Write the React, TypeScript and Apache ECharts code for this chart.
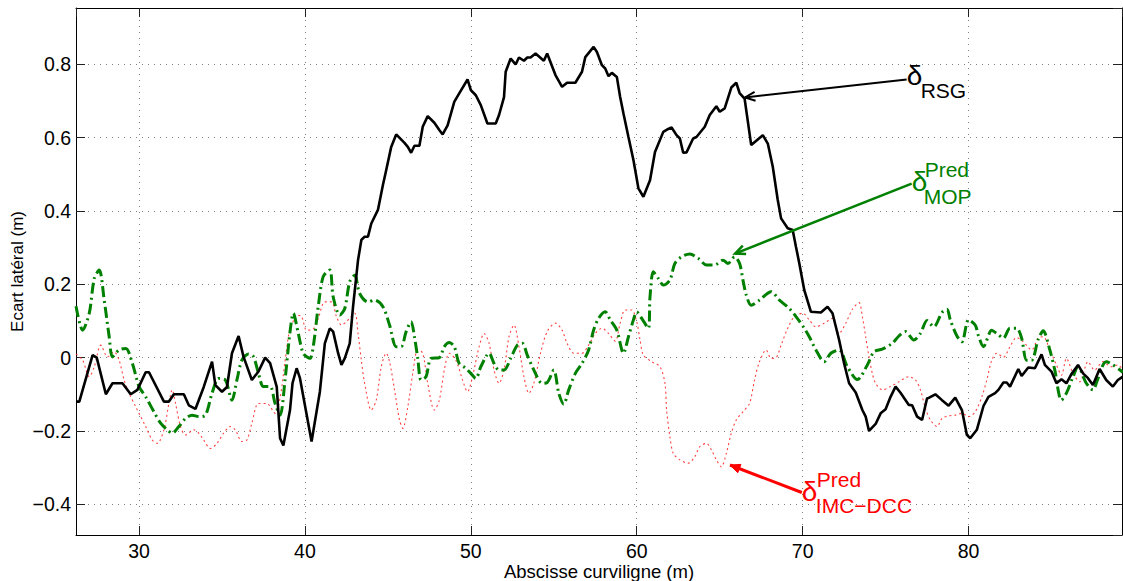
import React, { useEffect, useRef } from "react";
import * as echarts from "echarts";

// ---------- DATA ----------
const rsgX = [26.2, 26.4, 27.2, 27.45, 28.0, 28.4, 29.0, 29.5, 29.9, 30.4, 30.6, 31.5, 31.8, 32.1, 32.7, 33.0, 33.4, 33.9, 34.4, 34.6, 35.0, 35.3, 35.6, 36.0, 36.3, 36.8, 37.2, 37.6, 37.9, 38.3, 38.5, 38.7, 39.1, 39.25, 39.5, 39.7, 40.4, 40.9, 41.2, 41.5, 41.7, 42.0, 42.2, 42.4, 42.7, 42.9, 43.2, 43.4, 43.6, 43.8, 44.0, 44.4, 44.7, 44.9, 45.2, 45.5, 46.0, 46.2, 46.4, 46.6, 46.9, 47.1, 47.4, 47.8, 48.1, 48.3, 48.6, 49.0, 49.3, 49.8, 50.0, 50.3, 50.6, 51.0, 51.5, 51.7, 52.0, 52.1, 52.4, 52.7, 52.9, 53.2, 53.4, 53.6, 53.9, 54.4, 54.6, 55.1, 55.5, 55.8, 56.3, 56.7, 56.9, 57.4, 57.6, 57.9, 58.1, 58.3, 58.5, 58.8, 59.0, 59.2, 59.5, 59.8, 60.1, 60.4, 60.8, 61.1, 61.6, 61.9, 62.1, 62.4, 62.6, 62.8, 63.0, 63.4, 63.6, 64.1, 64.4, 64.8, 65.0, 65.3, 65.7, 66.0, 66.2, 66.5, 66.9, 67.6, 67.9, 68.2, 68.5, 68.7, 69.1, 69.4, 69.6, 69.8, 70.1, 70.5, 71.1, 71.5, 71.8, 72.2, 72.5, 72.8, 73.2, 73.6, 73.8, 74.0, 74.4, 74.7, 75.0, 75.3, 75.6, 75.9, 76.4, 76.6, 76.9, 77.2, 77.5, 77.6, 78.0, 78.4, 78.8, 79.2, 79.6, 79.9, 80.1, 80.5, 80.9, 81.2, 81.6, 81.8, 82.1, 82.3, 82.5, 83.0, 83.2, 83.6, 84.0, 84.4, 84.6, 85.0, 85.3, 85.6, 85.9, 86.2, 86.6, 86.9, 87.2, 87.5, 87.9, 88.3, 88.7, 89.0, 89.3];
const rsgY = [-0.12, -0.12, 0.007, 0.0, -0.10, -0.07, -0.07, -0.10, -0.088, -0.04, -0.04, -0.12, -0.12, -0.10, -0.10, -0.13, -0.14, -0.08, -0.011, -0.075, -0.093, -0.08, 0.012, 0.059, 0.002, -0.061, -0.038, 0.0, -0.015, -0.08, -0.22, -0.24, -0.143, -0.07, -0.029, -0.056, -0.229, -0.093, 0.039, 0.08, 0.071, 0.012, -0.02, -0.002, 0.039, 0.139, 0.266, 0.321, 0.33, 0.33, 0.366, 0.403, 0.471, 0.512, 0.575, 0.609, 0.586, 0.575, 0.559, 0.578, 0.578, 0.63, 0.659, 0.641, 0.621, 0.609, 0.634, 0.698, 0.721, 0.759, 0.73, 0.716, 0.689, 0.639, 0.639, 0.662, 0.711, 0.78, 0.816, 0.80, 0.819, 0.81, 0.819, 0.819, 0.83, 0.81, 0.83, 0.771, 0.739, 0.75, 0.75, 0.78, 0.82, 0.848, 0.834, 0.798, 0.789, 0.768, 0.777, 0.766, 0.711, 0.666, 0.602, 0.539, 0.462, 0.439, 0.484, 0.561, 0.616, 0.624, 0.628, 0.607, 0.598, 0.559, 0.56, 0.598, 0.602, 0.63, 0.662, 0.686, 0.671, 0.68, 0.737, 0.75, 0.722, 0.707, 0.58, 0.607, 0.584, 0.521, 0.43, 0.38, 0.353, 0.348, 0.302, 0.257, 0.184, 0.125, 0.123, 0.139, 0.121, 0.048, -0.016, -0.07, -0.095, -0.143, -0.161, -0.2, -0.181, -0.152, -0.141, -0.107, -0.079, -0.096, -0.129, -0.13, -0.161, -0.17, -0.111, -0.11, -0.1, -0.116, -0.131, -0.109, -0.143, -0.211, -0.22, -0.197, -0.132, -0.107, -0.097, -0.088, -0.068, -0.068, -0.079, -0.031, -0.05, -0.027, -0.029, 0.009, -0.02, -0.038, -0.07, -0.059, -0.07, -0.045, -0.02, -0.043, -0.056, -0.075, -0.031, -0.061, -0.079, -0.061, -0.052];

const mopX = [26.2, 26.6, 27.0, 27.3, 27.6, 27.9, 28.2, 28.4, 28.8, 29.2, 29.6, 30.0, 30.4, 30.9, 31.3, 31.7, 32.0, 32.4, 32.8, 33.2, 33.6, 34.0, 34.4, 34.8, 35.2, 35.6, 35.9, 36.2, 36.6, 36.9, 37.2, 37.5, 37.9, 38.2, 38.5, 38.8, 39.1, 39.3, 39.6, 39.9, 40.3, 40.5, 40.8, 41.1, 41.5, 41.7, 42.1, 42.4, 42.7, 43.0, 43.3, 43.8, 44.2, 44.7, 45.1, 45.5, 45.8, 46.1, 46.4, 46.6, 46.8, 47.0, 47.3, 47.6, 48.1, 48.4, 48.7, 49.0, 49.3, 49.7, 50.0, 50.3, 50.6, 51.1, 51.4, 51.7, 52.0, 52.4, 52.8, 53.1, 53.4, 53.8, 54.3, 54.6, 55.0, 55.3, 55.6, 55.9, 56.3, 56.7, 57.1, 57.4, 57.7, 58.1, 58.4, 58.8, 59.2, 59.5, 59.8, 60.0, 60.3, 60.7, 60.8, 61.0, 61.3, 61.6, 62.0, 62.3, 62.7, 63.2, 63.7, 64.2, 64.7, 65.2, 65.5, 65.9, 66.2, 66.4, 66.6, 66.9, 67.4, 68.1, 68.6, 69.2, 69.6, 70.1, 70.4, 70.8, 71.3, 71.7, 72.2, 72.7, 73.3, 73.9, 74.3, 74.8, 75.4, 75.8, 76.2, 76.7, 77.1, 77.5, 77.9, 78.4, 78.7, 78.9, 79.3, 79.6, 80.0, 80.4, 80.6, 80.9, 81.4, 81.7, 82.1, 82.5, 82.9, 83.2, 83.5, 83.8, 84.2, 84.5, 84.9, 85.2, 85.6, 85.9, 86.3, 86.6, 87.1, 87.5, 87.8, 88.3, 89.3];
const mopY = [0.14, 0.075, 0.121, 0.216, 0.239, 0.157, 0.057, 0.002, 0.021, 0.025, -0.016, -0.079, -0.107, -0.148, -0.179, -0.197, -0.206, -0.188, -0.166, -0.157, -0.161, -0.157, -0.097, -0.057, -0.061, -0.116, -0.061, -0.007, 0.01, 0.002, -0.043, -0.079, -0.079, -0.125, -0.157, -0.061, 0.07, 0.121, 0.066, 0.012, -0.002, 0.03, 0.139, 0.221, 0.239, 0.166, 0.116, 0.134, 0.207, 0.225, 0.175, 0.152, 0.157, 0.139, 0.089, 0.03, 0.03, 0.071, 0.098, 0.057, -0.002, -0.061, -0.052, -0.002, 0.0, 0.03, 0.041, 0.03, -0.016, -0.029, -0.043, -0.057, -0.025, 0.012, -0.016, -0.034, -0.034, -0.002, 0.034, 0.039, 0.007, -0.034, -0.07, -0.068, -0.034, -0.097, -0.127, -0.088, -0.043, -0.016, 0.021, 0.075, 0.107, 0.125, 0.103, 0.075, 0.012, 0.057, 0.103, 0.125, 0.107, 0.08, 0.166, 0.234, 0.216, 0.198, 0.212, 0.257, 0.275, 0.283, 0.271, 0.253, 0.253, 0.266, 0.257, 0.275, 0.257, 0.212, 0.171, 0.143, 0.157, 0.18, 0.157, 0.134, 0.112, 0.08, 0.057, 0.021, -0.011, 0.012, 0.021, -0.025, -0.06, -0.02, 0.016, 0.023, 0.039, 0.059, 0.071, 0.048, 0.066, 0.101, 0.084, 0.123, 0.132, 0.103, 0.059, 0.043, 0.103, 0.089, 0.059, 0.03, 0.075, 0.066, 0.053, 0.08, 0.08, 0.053, -0.007, -0.007, 0.05, 0.073, 0.021, -0.034, -0.116, -0.097, -0.052, -0.025, -0.07, -0.088, -0.057, -0.011, -0.04];

const imcX = [26.2, 26.6, 27.0, 27.3, 27.7, 28.1, 28.5, 28.8, 29.1, 29.4, 29.8, 30.1, 30.4, 30.8, 31.1, 31.5, 31.8, 32.0, 32.2, 32.5, 32.8, 33.3, 33.6, 33.9, 34.3, 34.7, 35.1, 35.5, 35.8, 36.2, 36.5, 36.8, 37.2, 37.7, 38.2, 38.5, 38.8, 39.05, 39.3, 39.5, 39.8, 40.1, 40.5, 40.8, 41.2, 41.6, 41.9, 42.2, 42.5, 43.0, 43.2, 43.4, 43.6, 44.0, 44.3, 44.6, 44.9, 45.1, 45.4, 45.7, 45.9, 46.2, 46.5, 46.8, 47.1, 47.4, 47.8, 48.1, 48.4, 48.7, 49.1, 49.5, 49.8, 50.1, 50.5, 50.8, 51.1, 51.4, 51.7, 52.0, 52.3, 52.6, 52.9, 53.2, 53.5, 53.8, 54.2, 54.6, 55.1, 55.5, 55.8, 56.2, 56.7, 57.1, 57.5, 57.9, 58.3, 58.7, 59.0, 59.3, 59.7, 60.0, 60.2, 60.4, 60.9, 61.4, 61.7, 61.8, 62.0, 62.2, 62.6, 63.1, 63.5, 63.8, 64.2, 64.5, 64.8, 65.1, 65.4, 65.7, 66.0, 66.4, 66.8, 67.1, 67.4, 67.8, 68.1, 68.4, 68.7, 69.1, 69.5, 70.0, 70.4, 70.8, 71.3, 71.8, 72.2, 72.6, 73.0, 73.4, 73.6, 73.8, 74.0, 74.2, 74.4, 74.8, 75.3, 75.8, 76.4, 76.8, 77.1, 77.4, 77.7, 78.1, 78.4, 78.8, 79.2, 79.6, 80.0, 80.4, 80.8, 81.1, 81.4, 81.7, 82.1, 82.5, 82.9, 83.3, 83.8, 84.2, 84.5, 84.9, 85.3, 85.6, 85.9, 86.3, 86.7, 87.2, 87.6, 88.1, 88.6, 89.0, 89.3];
const imcY = [0.01, -0.007, -0.052, -0.025, 0.034, 0.002, 0.016, -0.007, -0.061, -0.097, -0.134, -0.161, -0.188, -0.225, -0.234, -0.197, -0.125, -0.088, -0.125, -0.188, -0.211, -0.197, -0.206, -0.225, -0.248, -0.234, -0.206, -0.188, -0.197, -0.229, -0.225, -0.179, -0.125, -0.125, -0.152, -0.11, -0.01, 0.07, 0.1, 0.116, 0.112, 0.075, 0.078, 0.107, 0.152, 0.152, 0.112, 0.089, 0.098, 0.121, 0.066, -0.007, -0.07, -0.143, -0.116, -0.025, 0.012, -0.011, -0.088, -0.17, -0.193, -0.134, -0.043, 0.021, 0.012, -0.07, -0.143, -0.116, -0.034, 0.012, -0.007, -0.061, -0.093, -0.052, 0.03, 0.066, 0.039, -0.034, -0.07, -0.034, 0.057, 0.089, 0.03, -0.052, -0.097, -0.07, 0.012, 0.071, 0.094, 0.075, 0.039, 0.012, 0.012, 0.034, 0.066, 0.08, 0.066, 0.045, 0.094, 0.13, 0.13, 0.098, 0.048, 0.007, -0.011, -0.025, -0.07, -0.143, -0.216, -0.261, -0.279, -0.288, -0.27, -0.243, -0.234, -0.252, -0.279, -0.298, -0.261, -0.206, -0.17, -0.148, -0.125, -0.061, -0.011, 0.021, -0.002, 0.0, 0.034, 0.08, 0.112, 0.121, 0.103, 0.084, 0.094, 0.107, 0.066, 0.094, 0.132, 0.15, 0.112, 0.057, 0.002, -0.043, -0.07, -0.088, -0.079, -0.066, -0.052, -0.061, -0.088, -0.138, -0.17, -0.188, -0.166, -0.159, -0.157, -0.152, -0.161, -0.148, -0.107, -0.061, -0.007, 0.012, 0.001, 0.03, 0.055, 0.043, 0.021, 0.053, 0.057, 0.021, -0.02, -0.048, -0.002, -0.043, -0.066, -0.011, -0.034, -0.011, -0.025, -0.02, -0.034];

const xTickValues = [30, 40, 50, 60, 70, 80];
const yTickValues = [-0.4, -0.2, 0, 0.2, 0.4, 0.6, 0.8];

// axis extents
const X_MIN = 26.2;
const X_MAX = 89.25;
const Y_MIN = -0.484;
const Y_MAX = 0.954;

// annotation anchors (data coords): tail of arrow, tip of arrow
const annRSG = { tail: [76.27, 0.759], tip: [66.53, 0.71] };
const annMOP = { tail: [76.57, 0.475], tip: [65.93, 0.284] };
const annIMC = { tail: [69.95, -0.368], tip: [65.62, -0.293] };

const FONT = "'Liberation Sans', Arial, Helvetica, sans-serif";

function pairs(xs: number[], ys: number[]) {
  return xs.map((x, i) => [x, ys[i]]);
}

function isTick(v: number, ticks: number[]) {
  return ticks.some((t) => Math.abs(t - v) < 1e-6);
}

export default function App() {
  const ref = useRef<HTMLDivElement>(null);

  useEffect(() => {
    const chart = echarts.init(ref.current!, null, { renderer: "svg" });

    const gridLine = {
      show: true,
      showMinLine: false,
      showMaxLine: false,
      lineStyle: { color: "#808080", type: [1, 5], width: 1 },
    };
    const axisLineStyle = { show: true, onZero: false, lineStyle: { color: "#000", width: 1 } };
    const tickStyle = { show: true, inside: true, length: 9, lineStyle: { color: "#222", width: 1 } };
    const labelStyle = { color: "#000", fontSize: 19.5, fontFamily: FONT };

    const option: any = {
      animation: false,
      backgroundColor: "#fff",
      grid: { left: 76, right: 1, top: 8, bottom: 46, containLabel: false, outerBoundsMode: "none" },
      xAxis: [
        {
          type: "value",
          min: X_MIN,
          max: X_MAX,
          splitNumber: 6,
          position: "bottom",
          axisLine: axisLineStyle,
          axisTick: tickStyle,
          axisLabel: {
            ...labelStyle,
            lineHeight: 16,
            margin: 8,
            showMinLabel: false,
            showMaxLabel: false,
            formatter: (v: number) => (isTick(v, xTickValues) ? String(Math.round(v)) : ""),
          },
          splitLine: gridLine,
          name: "Abscisse curviligne (m)",
          nameLocation: "middle",
          nameGap: 27,
          nameMoveOverlap: false,
          nameTextStyle: { color: "#000", fontSize: 18.5, fontFamily: FONT },
        },
        {
          type: "value",
          min: X_MIN,
          max: X_MAX,
          splitNumber: 6,
          position: "top",
          axisLine: axisLineStyle,
          axisTick: tickStyle,
          axisLabel: { show: false },
          splitLine: { show: false },
        },
      ],
      yAxis: [
        {
          type: "value",
          min: Y_MIN,
          max: Y_MAX,
          splitNumber: 7,
          position: "left",
          axisLine: axisLineStyle,
          axisTick: tickStyle,
          axisLabel: {
            ...labelStyle,
            margin: 5,
            showMinLabel: false,
            showMaxLabel: false,
            formatter: (v: number) => {
              if (!isTick(v, yTickValues)) return "";
              if (Math.abs(v) < 1e-9) return "0";
              const s = Math.abs(v).toFixed(1);
              return v < 0 ? "\u2212" + s : s;
            },
          },
          splitLine: gridLine,
          name: "Ecart latéral (m)",
          nameLocation: "middle",
          nameGap: 50,
          nameMoveOverlap: false,
          nameTextStyle: { color: "#000", fontSize: 17, fontFamily: FONT },
        },
        {
          type: "value",
          min: Y_MIN,
          max: Y_MAX,
          splitNumber: 7,
          position: "right",
          axisLine: axisLineStyle,
          axisTick: tickStyle,
          axisLabel: { show: false },
          splitLine: { show: false },
        },
      ],
      series: [
        {
          name: "IMC-DCC",
          type: "line",
          xAxisIndex: 0,
          yAxisIndex: 0,
          data: pairs(imcX, imcY),
          showSymbol: false,
          smooth: 0.3,
          lineStyle: { color: "#ff2020", width: 1.1, type: [2, 3], opacity: 0.85 },
          z: 2,
        },
        {
          name: "MOP",
          type: "line",
          xAxisIndex: 0,
          yAxisIndex: 0,
          data: pairs(mopX, mopY),
          showSymbol: false,
          smooth: 0.3,
          lineStyle: { color: "#008000", width: 3, type: [11, 4, 2, 4] },
          z: 3,
        },
        {
          name: "RSG",
          type: "line",
          xAxisIndex: 0,
          yAxisIndex: 0,
          data: pairs(rsgX, rsgY),
          showSymbol: false,
          lineStyle: { color: "#000", width: 2.6 },
          z: 4,
        },
      ],
    };

    chart.setOption(option);

    const px = (p: number[]) => chart.convertToPixel({ seriesIndex: 0 }, p) as number[];

    const arrow = (ann: { tail: number[]; tip: number[] }, color: string, width: number, filled: boolean) => {
      const t = px(ann.tail);
      const h = px(ann.tip);
      const ang = Math.atan2(t[1] - h[1], t[0] - h[0]);
      const len = 11;
      const ha = 0.42;
      const p1 = [h[0] + len * Math.cos(ang + ha), h[1] + len * Math.sin(ang + ha)];
      const p2 = [h[0] + len * Math.cos(ang - ha), h[1] + len * Math.sin(ang - ha)];
      const els: any[] = [
        {
          type: "line",
          shape: { x1: t[0], y1: t[1], x2: h[0], y2: h[1] },
          style: { stroke: color, lineWidth: width },
          z: 100,
        },
      ];
      if (filled) {
        els.push({
          type: "polygon",
          shape: { points: [p1, h, p2] },
          style: { fill: color, stroke: color, lineWidth: 1 },
          z: 100,
        });
      } else {
        els.push({
          type: "polyline",
          shape: { points: [p1, h, p2] },
          style: { stroke: color, lineWidth: width, fill: "none" },
          z: 100,
        });
      }
      return { els, tail: t };
    };

    const txt = (x: number, y: number, text: string, size: number, color: string) => ({
      type: "text",
      x,
      y,
      z: 101,
      style: {
        text,
        fontSize: size,
        fontFamily: FONT,
        fill: color,
        align: "left",
        verticalAlign: "middle",
      },
    });

    const a1 = arrow(annRSG, "#000", 2, false);
    const a2 = arrow(annMOP, "#008000", 2.5, false);
    const a3 = arrow(annIMC, "#ff0000", 3, true);
    const s1 = a1.tail;
    const s2 = a2.tail;
    const s3 = a3.tail;

    const graphic: any[] = [
      ...a1.els,
      ...a2.els,
      ...a3.els,
      txt(s1[0] + 0, s1[1] - 4, "δ", 28, "#000"),
      txt(s1[0] + 14, s1[1] + 11, "RSG", 21, "#000"),
      txt(s2[0] + 0, s2[1] - 2, "δ", 28, "#008000"),
      txt(s2[0] + 13, s2[1] - 14, "Pred", 21, "#008000"),
      txt(s2[0] + 12, s2[1] + 13, "MOP", 21, "#008000"),
      txt(s3[0] + 0, s3[1] - 1, "δ", 28, "#ff0000"),
      txt(s3[0] + 15, s3[1] - 13, "Pred", 21, "#ff0000"),
      txt(s3[0] + 14, s3[1] + 13, "IMC\u2212DCC", 21, "#ff0000"),
    ];

    chart.setOption({ graphic });

    return () => {
      chart.dispose();
    };
  }, []);

  return (
    <div
      ref={ref}
      style={{ position: "absolute", left: 0, top: 0, width: 1123, height: 581, background: "#fff" }}
    />
  );
}
